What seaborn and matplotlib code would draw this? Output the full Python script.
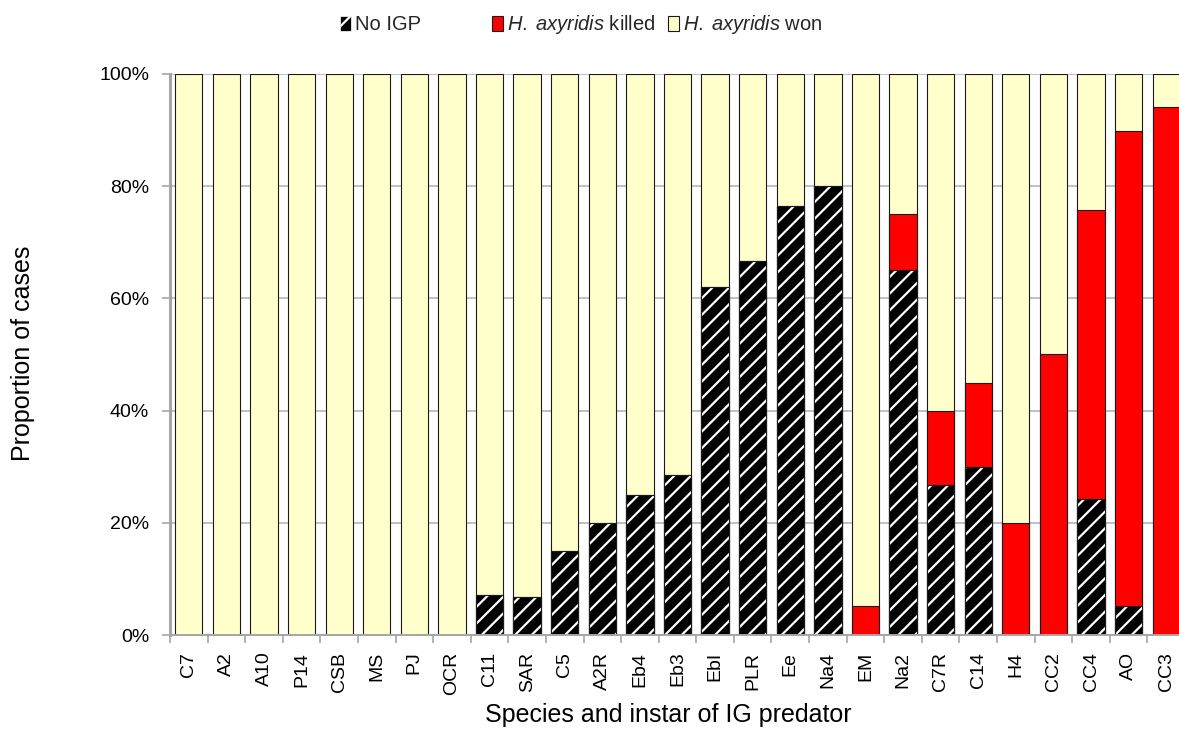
import matplotlib
matplotlib.use('Agg')
import matplotlib.pyplot as plt
import seaborn as sns
import pandas as pd
from matplotlib.patches import Patch
from matplotlib.font_manager import FontProperties
from matplotlib.ticker import FixedLocator, PercentFormatter

categories = ["C7", "A2", "A10", "P14", "CSB", "MS", "PJ", "OCR", "C11", "SAR",
              "C5", "A2R", "Eb4", "Eb3", "EbI", "PLR", "Ee", "Na4", "EM", "Na2",
              "C7R", "C14", "H4", "CC2", "CC4", "AO", "CC3"]
no_igp = [0, 0, 0, 0, 0, 0, 0, 0, 7.1, 6.7,
          15, 20, 25, 28.6, 62, 66.7, 76.5, 80, 0, 65,
          26.7, 30, 0, 0, 24.2, 5.1, 0]
killed = [0, 0, 0, 0, 0, 0, 0, 0, 0, 0,
          0, 0, 0, 0, 0, 0, 0, 0, 5.2, 10,
          13.3, 15, 20, 50, 51.6, 84.8, 94.1]
won = [100, 100, 100, 100, 100, 100, 100, 100, 92.9, 93.3,
       85, 80, 75, 71.4, 38, 33.3, 23.5, 20, 94.8, 25,
       60, 55, 80, 50, 24.2, 10.1, 5.9]
legend_labels = ["No IGP", r"$\mathit{H.\;axyridis}$ killed", r"$\mathit{H.\;axyridis}$ won"]

YELLOW = "#FFFFCC"
RED = "#FF0000"
EDGE = "#1a1a1a"
GRAY = "#a6a6a6"

sns.set_theme(style="white")
plt.rcParams['font.family'] = ['Liberation Sans', 'DejaVu Sans']
plt.rcParams['mathtext.fontset'] = 'custom'
plt.rcParams['mathtext.rm'] = 'Liberation Sans'
plt.rcParams['mathtext.it'] = 'Liberation Sans:italic'
plt.rcParams['hatch.linewidth'] = 1.6

df = pd.DataFrame({"cat": categories, "noigp": no_igp, "killed": killed, "won": won})
df["top_killed"] = df["noigp"] + df["killed"]
df["total"] = df["top_killed"] + df["won"]

fig = plt.figure(figsize=(11.79, 7.29), dpi=100)
ax = fig.add_axes([170 / 1179, 94 / 729, 1015 / 1179, 561 / 729])

W = 0.727
common = dict(x="cat", ax=ax, width=W, saturation=1, errorbar=None)
sns.barplot(data=df, y="total", color=YELLOW, edgecolor=EDGE, linewidth=0.8, **common)
sns.barplot(data=df, y="top_killed", color=RED, edgecolor=EDGE, linewidth=0.8, **common)
sns.barplot(data=df, y="noigp", color="black", edgecolor="white", linewidth=0,
            hatch="//", **common)
sns.barplot(data=df, y="noigp", color=EDGE, fill=False, linewidth=0.8, **common)

ax.set_xlim(-0.5, len(categories) - 0.5)
ax.set_ylim(0, 100)
ax.yaxis.set_major_locator(FixedLocator([0, 20, 40, 60, 80, 100]))
ax.yaxis.set_major_formatter(PercentFormatter(decimals=0))
ax.set_axisbelow(True)
ax.yaxis.grid(True, color="#c0c0c0", linewidth=1.4)
ax.xaxis.grid(False)

for s in ["top", "right"]:
    ax.spines[s].set_visible(False)
ax.spines["left"].set_color(GRAY)
ax.spines["left"].set_linewidth(2.2)
ax.spines["bottom"].set_color(GRAY)
ax.spines["bottom"].set_linewidth(1.4)

ax.tick_params(axis="y", which="major", direction="out", length=6, width=1.2,
               color=GRAY, labelsize=14, labelcolor="black", pad=9, left=True)
ax.set_xticks(range(len(categories)))
ax.set_xticklabels(categories, rotation=90)
ax.xaxis.set_minor_locator(FixedLocator([i - 0.5 for i in range(len(categories) + 1)]))
ax.tick_params(axis="x", which="major", length=0, labelsize=14, labelcolor="black", pad=12)
ax.tick_params(axis="x", which="minor", direction="out", length=6, width=1.2,
               color=GRAY, bottom=True)
for lab in ax.get_xticklabels():
    lab.set_verticalalignment("top")

ax.set_xlabel("")
ax.set_ylabel("")
fig.text(668 / 1179, 1 - 715 / 729, "Species and instar of IG predator",
         ha="center", va="center", fontsize=18, color="black")
fig.text(23 / 1179, 1 - 353 / 729, "Proportion of cases", rotation=90,
         ha="center", va="center", fontsize=18, color="black")

handles = [
    Patch(facecolor="black", edgecolor="white", hatch="//", linewidth=0.5),
    Patch(facecolor=RED, edgecolor=EDGE, linewidth=0.8),
    Patch(facecolor=YELLOW, edgecolor=EDGE, linewidth=0.8),
]
leg_font = FontProperties(family=['Liberation Sans', 'DejaVu Sans'], size=14.5)
xs = [340, 492, 668]
for h, lab, xp in zip(handles, legend_labels, xs):
    fig.legend(handles=[h], labels=[lab], loc="center left",
               bbox_to_anchor=(xp / 1179, 1 - 25 / 729), frameon=False,
               borderpad=0, borderaxespad=0, handlelength=0.55, handleheight=0.7,
               handletextpad=0.2, prop=leg_font)

fig.savefig("out.png", dpi=100)
